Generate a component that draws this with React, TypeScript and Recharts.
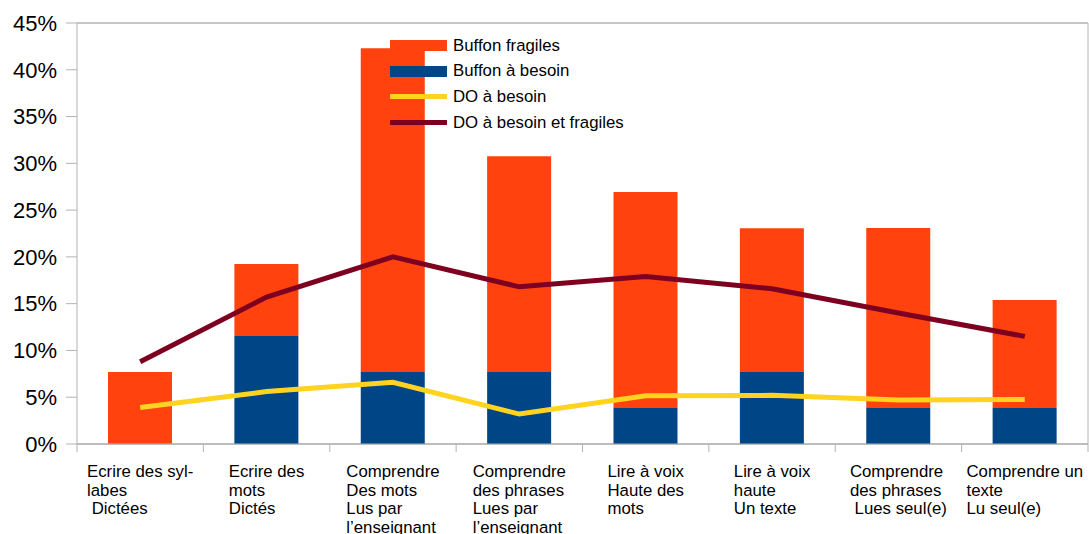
import React from "react";
import {
  ComposedChart, Bar, Line, XAxis, YAxis, CartesianGrid, Legend,
} from "recharts";

const categories = [
  "Ecrire des syl-\nlabes\n Dictées",
  "Ecrire des\nmots\nDictés",
  "Comprendre\nDes mots\nLus par\nl’enseignant",
  "Comprendre\ndes phrases\nLues par\nl’enseignant",
  "Lire à voix\nHaute des\nmots",
  "Lire à voix\nhaute\nUn texte",
  "Comprendre\ndes phrases\n Lues seul(e)",
  "Comprendre un\ntexte\nLu seul(e)",
];

const buffonBesoin = [0, 11.54, 7.69, 7.69, 3.85, 7.69, 3.85, 3.85];
const buffonFragiles = [7.69, 7.69, 34.62, 23.08, 23.08, 15.38, 19.23, 11.54];
const doBesoin = [3.9, 5.6, 6.6, 3.2, 5.15, 5.2, 4.7, 4.75];
const doBesoinFragiles = [8.8, 15.7, 20.0, 16.8, 17.9, 16.6, 14.0, 11.5];

const yTicks = [0, 5, 10, 15, 20, 25, 30, 35, 40, 45];

const COLORS = {
  fragiles: "#ff420e",
  besoin: "#004586",
  doBesoin: "#ffd320",
  doFragiles: "#7e0021",
};

const FONT = "'Liberation Sans', Arial, sans-serif";
const GRID = "#b3b3b3";
const LABEL_SIZE = 16.8;

const data = categories.map((label, i) => ({
  label,
  buffonBesoin: buffonBesoin[i],
  buffonFragiles: buffonFragiles[i],
  doBesoin: doBesoin[i],
  doBesoinFragiles: doBesoinFragiles[i],
}));

let ctx: CanvasRenderingContext2D | null = null;
function measure(text: string, font: string) {
  if (!ctx) ctx = document.createElement("canvas").getContext("2d");
  if (!ctx) return text.length * 8;
  ctx.font = font;
  return ctx.measureText(text).width;
}

function CategoryTick(props: any) {
  const { x, y, payload, index } = props;
  const half = payload?.offset ?? 1011 / 16;
  const lines: string[] = String(payload.value).split("\n");
  const w = Math.max(...lines.map((l) => measure(l, `${LABEL_SIZE}px ${FONT}`)));
  const left = x - w / 2;
  return (
    <g>
      <line x1={x - half} x2={x - half} y1={y} y2={y + 8} stroke={GRID} />
      {index === categories.length - 1 && (
        <line x1={x + half} x2={x + half} y1={y} y2={y + 8} stroke={GRID} />
      )}
      <text x={left} y={y + 33} fontSize={LABEL_SIZE} fontFamily={FONT} fill="#000" style={{ whiteSpace: "pre" }}>
        {lines.map((l, i) => (
          <tspan key={i} x={left} dy={i === 0 ? 0 : 18.5}>{l}</tspan>
        ))}
      </text>
    </g>
  );
}

const legendItems = [
  { name: "Buffon fragiles", color: COLORS.fragiles, h: 11 },
  { name: "Buffon à besoin", color: COLORS.besoin, h: 11 },
  { name: "DO à besoin", color: COLORS.doBesoin, h: 5 },
  { name: "DO à besoin et fragiles", color: COLORS.doFragiles, h: 5 },
];

function LegendBox() {
  return (
    <div style={{ fontFamily: FONT, fontSize: LABEL_SIZE, color: "#000" }}>
      {legendItems.map((it) => (
        <div key={it.name} style={{ display: "flex", alignItems: "center", height: 25.6 }}>
          <div style={{ width: 57, height: it.h, background: it.color, marginRight: 6 }} />
          <span>{it.name}</span>
        </div>
      ))}
    </div>
  );
}

export default function App() {
  return (
    <div style={{ position: "absolute", left: 0, top: 0, width: 1089, height: 534, background: "#fff" }}>
      <ComposedChart
        width={1089}
        height={534}
        data={data}
        margin={{ top: 23, right: 0, bottom: 0, left: 0 }}
        barGap={0}
      >
        <CartesianGrid vertical={false} stroke={GRID} strokeWidth={1.3} />
        <XAxis
          dataKey="label"
          height={90}
          interval={0}
          tickLine={false}
          tickSize={0}
          tickMargin={0}
          axisLine={{ stroke: GRID }}
          tick={<CategoryTick />}
        />
        <YAxis
          yAxisId="left"
          domain={[0, 45]}
          ticks={yTicks}
          width={77}
          tickSize={11}
          tickMargin={9}
          tickLine={{ stroke: GRID }}
          axisLine={{ stroke: GRID }}
          tickFormatter={(v: number) => `${v}%`}
          tick={{ fontSize: 22, fontFamily: FONT, fill: "#000" }}
        />
        <YAxis
          yAxisId="right"
          orientation="right"
          domain={[0, 45]}
          width={1}
          tick={false}
          tickLine={false}
          axisLine={{ stroke: GRID }}
        />
        <Legend
          layout="vertical"
          verticalAlign="middle"
          align="center"
          content={<LegendBox />}
          wrapperStyle={{ position: "absolute", left: 390, top: 33, width: 270 }}
        />
        <Bar yAxisId="left" dataKey="buffonBesoin" name="Buffon à besoin" stackId="a" fill={COLORS.besoin} barSize={64} isAnimationActive={false} />
        <Bar yAxisId="left" dataKey="buffonFragiles" name="Buffon fragiles" stackId="a" fill={COLORS.fragiles} barSize={64} isAnimationActive={false} />
        <Line yAxisId="left" dataKey="doBesoin" name="DO à besoin" stroke={COLORS.doBesoin} strokeWidth={5} dot={false} type="linear" isAnimationActive={false} />
        <Line yAxisId="left" dataKey="doBesoinFragiles" name="DO à besoin et fragiles" stroke={COLORS.doFragiles} strokeWidth={5} dot={false} type="linear" isAnimationActive={false} />
      </ComposedChart>
    </div>
  );
}
